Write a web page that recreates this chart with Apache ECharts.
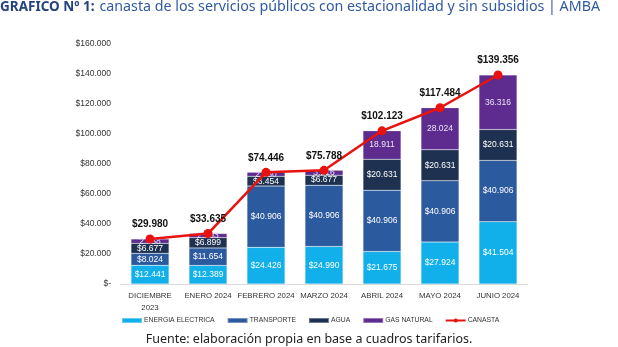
<!DOCTYPE html>
<html>
<head>
<meta charset="utf-8">
<script src="https://cdn.jsdelivr.net/npm/echarts@6/dist/echarts.min.js"></script>
<style>
html,body{margin:0;padding:0;background:#fff;}
#chart{width:618px;height:347px;}
</style>
</head>
<body>
<div id="chart"></div>
<script>
const categories = ['DICIEMBRE\n2023','ENERO 2024','FEBRERO 2024','MARZO 2024','ABRIL 2024','MAYO 2024','JUNIO 2024'];
const energia = [12441, 12389, 24426, 24990, 21675, 27924, 41504];
const transporte = [8024, 11654, 40906, 40906, 40906, 40906, 40906];
const agua = [6677, 6899, 6454, 6677, 20631, 20631, 20631];
const gas = [2838, 2693, 2660, 3216, 18911, 28024, 36316];
const canasta = [29980, 33635, 74446, 75788, 102123, 117484, 139356];
const yTicks = [0, 20000, 40000, 60000, 80000, 100000, 120000, 140000, 160000];

function fmt(v){ return String(v).replace(/\B(?=(\d{3})+(?!\d))/g, '.'); }

const chart = echarts.init(document.getElementById('chart'));
const barLabel = (prefix, color) => ({
  show: true, position: 'inside', color: color,
  fontFamily: 'Liberation Sans', fontSize: 8.5,
  formatter: p => prefix + fmt(p.value)
});
const barCommon = {type:'bar', stack:'total', barWidth: 38,
  itemStyle:{borderColor:'rgba(255,255,255,0.35)', borderWidth:0.5}};

chart.setOption({
  animation:false,
  title:[{
    left: 0, top: -2, padding: 0,
    text: '{b|GRAFICO Nº 1:} {n|canasta de los servicios públicos con estacionalidad y sin subsidios | AMBA}',
    textStyle:{fontWeight:'normal', rich:{
      b:{fontFamily:'Noto Sans', fontWeight:'bold', fontSize:13.5, color:'#24427e'},
      n:{fontFamily:'Noto Sans', fontWeight:'normal', fontSize:14.25, color:'#2f5aa3'}
    }}
  },{
    left: 'center', top: 333, padding: 0,
    text: 'Fuente: elaboración propia en base a cuadros tarifarios.',
    textStyle:{fontFamily:'Noto Sans', fontSize:12.5, fontWeight:'normal', color:'#222'}
  }],
  grid:{left:121, right:91, top:44, bottom:63},
  legend:{
    top: 317, left: 121, padding: 0, itemWidth: 20, itemHeight: 5, itemGap: 12,
    textStyle:{fontFamily:'Liberation Sans', fontSize:6.8, color:'#333', padding:[0,0,0,-3]},
    data:[
      {name:'ENERGIA ELECTRICA', icon:'rect'},
      {name:'TRANSPORTE', icon:'rect'},
      {name:'AGUA', icon:'rect'},
      {name:'GAS NATURAL', icon:'rect'},
      {name:'CANASTA'}
    ]
  },
  xAxis:{
    type:'category', data:categories,
    axisLine:{lineStyle:{color:'#d9d9d9'}},
    axisTick:{show:false},
    axisLabel:{interval:0, color:'#333', fontFamily:'Liberation Sans', fontSize:7.8, lineHeight:12, margin:6}
  },
  yAxis:{
    type:'value', min:0, max:160000, interval:20000,
    splitLine:{show:false},
    axisLine:{show:false}, axisTick:{show:false},
    axisLabel:{color:'#333', fontFamily:'Liberation Sans', fontSize:8.5, margin:10,
      formatter: v => v === 0 ? '$-' : '$' + fmt(v)}
  },
  series:[
    Object.assign({}, barCommon, {name:'ENERGIA ELECTRICA', data:energia, color:'#12b0ea',
      label: barLabel('$', '#ffffff')}),
    Object.assign({}, barCommon, {name:'TRANSPORTE', data:transporte, color:'#2c5a9e',
      label: barLabel('$', '#ffffff')}),
    Object.assign({}, barCommon, {name:'AGUA', data:agua, color:'#1e3150',
      label: barLabel('$', '#ffffff')}),
    Object.assign({}, barCommon, {name:'GAS NATURAL', data:gas, color:'#5e2b8e',
      label: barLabel('', '#ece4f7')}),
    {name:'CANASTA', type:'line', data:canasta, color:'#e8120f',
      symbol:'circle', symbolSize:9, lineStyle:{width:2.5, color:'#e8120f'},
      label:{show:true, position:'top', distance:5, color:'#111', fontWeight:'bold',
        fontFamily:'Liberation Sans', fontSize:10, formatter: p => '$' + fmt(p.value)},
      z:10}
  ]
});
</script>
</body>
</html>
